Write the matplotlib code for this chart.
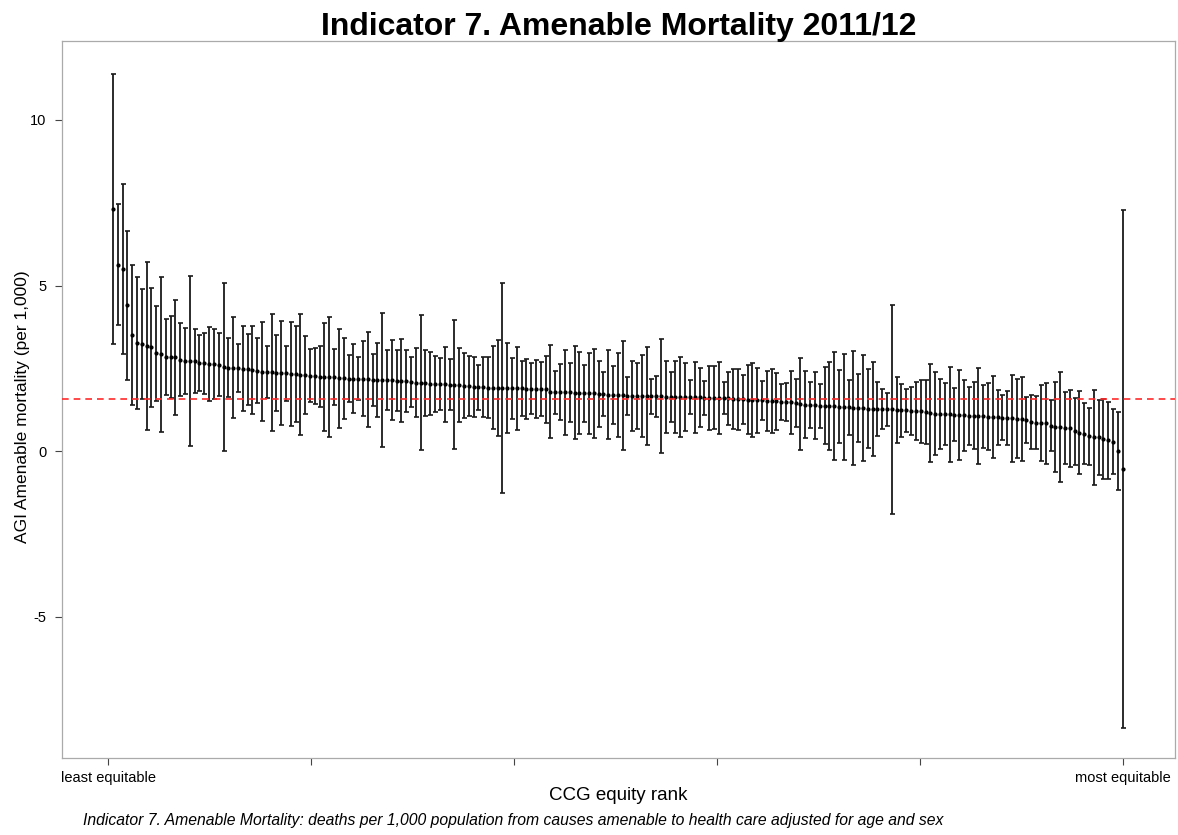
import numpy as np
import matplotlib
matplotlib.use("Agg")
import matplotlib.pyplot as plt

plt.rcParams['font.family'] = ['Liberation Sans', 'DejaVu Sans']

# Age/sex-adjusted amenable mortality gap (per 1,000) by CCG, ordered by equity rank
estimate = [
    7.31, 5.63, 5.50, 4.41, 3.50, 3.27, 3.24, 3.18, 3.13, 2.95,
    2.92, 2.85, 2.85, 2.83, 2.76, 2.73, 2.73, 2.71, 2.66, 2.65,
    2.63, 2.63, 2.61, 2.55, 2.52, 2.52, 2.50, 2.49, 2.47, 2.45,
    2.42, 2.40, 2.39, 2.38, 2.37, 2.36, 2.35, 2.33, 2.32, 2.31,
    2.30, 2.28, 2.27, 2.25, 2.25, 2.24, 2.23, 2.20, 2.20, 2.19,
    2.19, 2.18, 2.18, 2.17, 2.15, 2.15, 2.15, 2.14, 2.14, 2.13,
    2.13, 2.12, 2.09, 2.07, 2.06, 2.05, 2.04, 2.03, 2.02, 2.02,
    2.01, 2.00, 1.99, 1.98, 1.97, 1.94, 1.93, 1.93, 1.92, 1.92,
    1.91, 1.91, 1.91, 1.90, 1.89, 1.89, 1.88, 1.88, 1.87, 1.87,
    1.86, 1.79, 1.78, 1.78, 1.77, 1.77, 1.76, 1.75, 1.75, 1.74,
    1.74, 1.73, 1.72, 1.70, 1.69, 1.68, 1.68, 1.67, 1.67, 1.66,
    1.66, 1.66, 1.65, 1.65, 1.65, 1.64, 1.64, 1.64, 1.63, 1.63,
    1.63, 1.62, 1.62, 1.61, 1.61, 1.61, 1.60, 1.60, 1.59, 1.58,
    1.57, 1.56, 1.55, 1.54, 1.54, 1.53, 1.52, 1.52, 1.51, 1.49,
    1.48, 1.47, 1.46, 1.42, 1.40, 1.39, 1.38, 1.37, 1.37, 1.36,
    1.35, 1.34, 1.33, 1.32, 1.31, 1.30, 1.30, 1.28, 1.27, 1.27,
    1.27, 1.26, 1.26, 1.25, 1.24, 1.23, 1.22, 1.21, 1.20, 1.18,
    1.14, 1.13, 1.12, 1.12, 1.11, 1.10, 1.09, 1.08, 1.07, 1.07,
    1.06, 1.05, 1.04, 1.03, 1.02, 1.01, 1.00, 0.99, 0.98, 0.97,
    0.94, 0.87, 0.86, 0.85, 0.84, 0.76, 0.73, 0.72, 0.69, 0.69,
    0.60, 0.55, 0.53, 0.45, 0.41, 0.41, 0.36, 0.32, 0.28, 0.00,
    -0.54,
]

# Half-width of the 95% confidence interval for each CCG
ci_half = [
    4.08, 1.83, 2.56, 2.25, 2.12, 2.00, 1.67, 2.53, 1.80, 1.44,
    2.34, 1.15, 1.24, 1.73, 1.10, 1.00, 2.57, 0.97, 0.85, 0.93,
    1.13, 1.05, 0.95, 2.54, 0.88, 1.52, 0.73, 1.29, 1.07, 1.33,
    0.98, 1.50, 0.79, 1.76, 1.15, 1.56, 0.83, 1.57, 1.45, 1.83,
    1.18, 0.80, 0.85, 0.93, 1.63, 1.80, 0.85, 1.49, 1.22, 0.72,
    1.05, 0.65, 1.13, 1.44, 0.79, 1.11, 2.03, 0.91, 1.21, 0.92,
    1.26, 0.93, 0.76, 1.03, 2.04, 0.99, 0.95, 0.84, 0.78, 1.13,
    0.77, 1.95, 1.11, 0.97, 0.91, 0.90, 0.68, 0.90, 0.93, 1.25,
    1.45, 3.17, 1.35, 0.92, 1.24, 0.84, 0.91, 0.77, 0.87, 0.81,
    1.02, 1.41, 0.65, 0.84, 1.27, 0.90, 1.41, 1.23, 0.86, 1.21,
    1.35, 0.99, 0.67, 1.34, 0.87, 1.27, 1.64, 0.58, 1.05, 1.00,
    1.25, 1.47, 0.53, 0.62, 1.72, 1.09, 0.76, 1.08, 1.22, 1.03,
    0.51, 1.06, 0.88, 0.51, 0.96, 0.95, 1.08, 0.49, 0.79, 0.90,
    0.92, 0.75, 1.04, 1.13, 0.98, 0.60, 0.91, 0.96, 0.86, 0.54,
    0.57, 0.96, 0.72, 1.40, 1.01, 0.70, 1.02, 0.66, 1.17, 1.34,
    1.63, 1.11, 1.60, 0.84, 1.72, 1.03, 1.60, 1.20, 1.42, 0.81,
    0.61, 0.49, 3.16, 1.00, 0.80, 0.65, 0.72, 0.87, 0.95, 0.97,
    1.48, 1.26, 1.06, 0.93, 1.43, 0.81, 1.37, 1.08, 0.88, 1.02,
    1.44, 0.95, 1.01, 1.24, 0.83, 0.68, 0.82, 1.31, 1.19, 1.28,
    0.70, 0.82, 0.80, 1.16, 1.23, 0.77, 1.35, 1.66, 1.09, 1.16,
    1.01, 1.25, 0.93, 0.86, 1.44, 1.12, 1.21, 1.16, 0.98, 1.17,
    7.81,
]

national_gap = 1.57
y_ticks = [-5, 0, 5, 10]
x_tick_labels = ["least equitable", "", "", "", "", "most equitable"]

est = np.array(estimate)
half = np.array(ci_half)
rank = np.arange(1, len(est) + 1)

fig = plt.figure(figsize=(11.78, 8.35), dpi=100)
ax = fig.add_axes([0.0526, 0.0922, 0.9449, 0.8589])

ax.errorbar(rank, est, yerr=half, fmt='o', color='black', ecolor='#1a1a1a',
            elinewidth=1.3, capsize=1.8, capthick=1.2, markersize=2.0, zorder=3)
ax.axhline(national_gap, color='#ff2a2a', linestyle=(0, (4, 3)), linewidth=1.2, zorder=4)

ax.set_xlim(-9.6, 221.9)
ax.set_ylim(-9.27, 12.39)

ax.set_yticks(y_ticks)
ax.set_yticklabels([str(v) for v in y_ticks], fontsize=10.5)
ax.set_xticks(np.linspace(0, len(est), 6))
ax.set_xticklabels(x_tick_labels, fontsize=10.5)
ax.tick_params(axis='both', length=5, width=0.8, color='#444444')
ax.tick_params(axis='x', pad=4)
ax.tick_params(axis='y', pad=6)

for side in ax.spines.values():
    side.set_color('#aaaaaa')
    side.set_linewidth(0.9)

ax.set_xlabel("CCG equity rank", fontsize=13.5, labelpad=2)
ax.set_ylabel("AGI Amenable mortality (per 1,000)", fontsize=12.5)
ax.yaxis.set_label_coords(-0.029, 0.49)

# Title centred over the plotting panel
ax.text(0.5, 1.0 + 14 / 717, "Indicator 7. Amenable Mortality 2011/12", transform=ax.transAxes,
        ha='center', va='center', fontsize=23, fontweight='bold')
fig.text(0.0705, 0.017,
         "Indicator 7. Amenable Mortality: deaths per 1,000 population from causes amenable to health care adjusted for age and sex",
         ha='left', va='center', fontsize=11.3, style='italic')

fig.savefig("out.png", dpi=100)
